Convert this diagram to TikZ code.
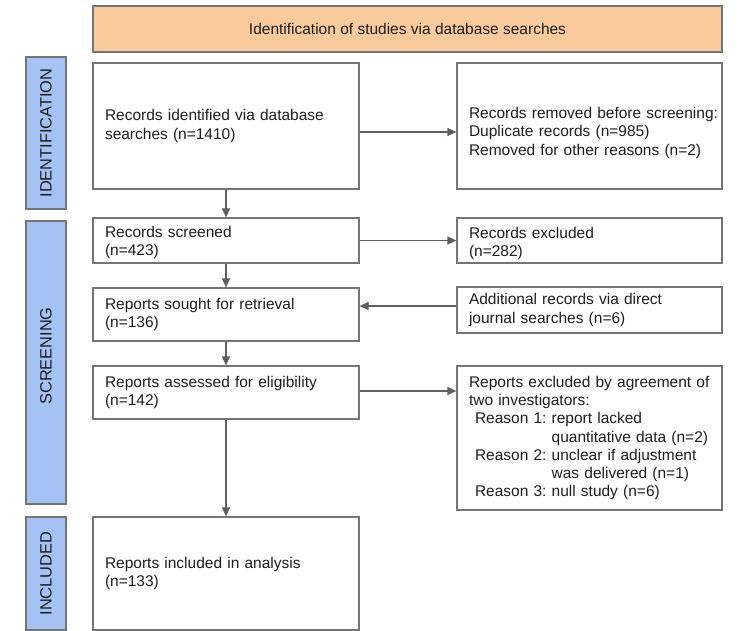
\documentclass[tikz,border=0pt]{standalone}
\usepackage{fontspec}
\setmainfont{Liberation Sans}
\usetikzlibrary{arrows.meta,calc}
\definecolor{hdrfill}{HTML}{F9CB9C}
\definecolor{sidefill}{HTML}{A4C2F4}
\definecolor{bord}{HTML}{757575}
\definecolor{arrcol}{HTML}{5F5F5F}
\definecolor{txt}{HTML}{1E1E1E}
\newcommand\bodyfont{\fontsize{15.5}{18.3}\selectfont\frenchspacing\hyphenpenalty=10000\exhyphenpenalty=10000}
\newcommand\sidefont{\fontsize{16.4}{19}\selectfont}
\newcommand\rsn[2]{\mbox{\hspace*{6pt}Reason #1: #2}}
\newcommand\rsc[1]{\mbox{\hspace*{6pt}\phantom{Reason 1: }#1}}
\newcommand\tsh[1]{\rule{0pt}{#1}}
\tikzset{
  pbox/.style={draw=bord, line width=1.2pt, fill=white, inner xsep=12pt, inner ysep=0pt,
    align=left, font=\bodyfont, text=txt},
  lbox/.style={pbox, text width=242pt},
  rbox/.style={pbox, text width=241pt},
  hbox/.style={draw=bord, line width=1.2pt, fill=hdrfill, minimum width=629pt, minimum height=46pt,
    font=\bodyfont, text=txt, inner sep=0pt},
  sbox/.style={draw=bord, line width=1.2pt, fill=sidefill, rotate=90, minimum height=40pt,
    font=\sidefont, text=txt, inner sep=0pt},
  arw/.style={draw=arrcol, line width=1.2pt, -{Triangle[length=9pt,width=8pt]}}
}
\begin{document}
\begin{tikzpicture}[x=1pt,y=-1pt]
\useasboundingbox (0,0) rectangle (750,631);
% header
\node[hbox] (hdr) at (407.5,29) {Identification of studies via database searches};
% side bars
\node[sbox, minimum width=152pt] (sid) at (46,133) {IDENTIFICATION};
\node[sbox, minimum width=283pt] (sscr) at (46,362.5) {\hspace*{13pt}SCREENING};
\node[sbox, minimum width=113pt] (sinc) at (46,573.5) {INCLUDED};
% left column
\node[lbox, minimum height=126pt] (b1) at (226,126) {Records identified via database\\searches (n=1410)};
\node[lbox, minimum height=45pt] (scr) at (226,240.5) {\tsh{15pt}Records screened\\(n=423)};
\node[lbox, minimum height=53pt] (sou) at (226,314.5) {Reports sought for retrieval\\(n=136)};
\node[lbox, minimum height=53pt] (ass) at (226,392.5) {Reports assessed for eligibility\\(n=142)};
\node[lbox, minimum height=113pt] (inc) at (226,573.5) {Reports included in analysis\\(n=133)};
% right column
\node[rbox, minimum height=126pt] (rem) at (589.5,126) {\tsh{25pt}\mbox{Records removed before screening:}\\Duplicate records (n=985)\\Removed for other reasons (n=2)};
\node[rbox, minimum height=45pt] (exc) at (589.5,240.5) {\tsh{17pt}Records excluded\\(n=282)};
\node[rbox, minimum height=46pt] (add) at (589.5,310) {Additional records via direct\\journal searches (n=6)};
\node[rbox, minimum height=144pt] (rex) at (589.5,438) {\mbox{Reports excluded by agreement of}\\two investigators:\\
\rsn{1}{report lacked}\\
\rsc{quantitative data (n=2)}\\
\rsn{2}{unclear if adjustment}\\
\rsc{was delivered (n=1)}\\
\rsn{3}{null study (n=6)}};
% arrows
\draw[arw] (b1.south) -- (scr.north);
\draw[arw] (scr.south) -- (sou.north);
\draw[arw] (sou.south) -- (ass.north);
\draw[arw] (ass.south) -- (inc.north);
\draw[arw] ($(b1.east)+(0,-6pt)$) -- ($(rem.west)+(0,-6pt)$);
\draw[arw] (scr.east) -- (exc.west);
\draw[arw] ($(add.west)+(0,4pt)$) -- ($(sou.east)+(0,8.5pt)$);
\draw[arw] ($(ass.east)+(0,1.5pt)$) -- ($(rex.west)+(0,47pt)$);
\end{tikzpicture}
\end{document}
